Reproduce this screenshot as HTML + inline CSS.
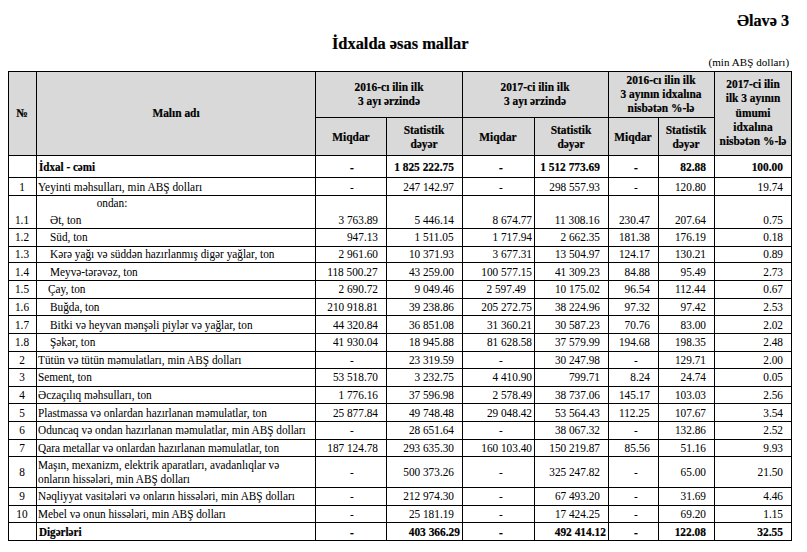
<!DOCTYPE html>
<html><head><meta charset="utf-8"><style>
html,body{margin:0;padding:0;background:#fff;}
body{width:807px;height:552px;position:relative;overflow:hidden;font-family:"Liberation Serif",serif;color:#000;}
.l{position:absolute;}
.t{position:absolute;white-space:nowrap;-webkit-text-stroke:0.04px #000;}
</style></head><body>
<div class="t" style="top:13px;font-size:16.2px;line-height:16.2px;font-weight:bold;-webkit-text-stroke:0.2px #000;right:18px;text-align:right;">Əlavə 3</div>
<div class="t" style="top:36px;font-size:16.4px;line-height:16.4px;font-weight:bold;-webkit-text-stroke:0.2px #000;left:200.3px;width:400px;text-align:center;">İdxalda əsas mallar</div>
<div class="t" style="top:57px;font-size:11px;line-height:11px;right:17.799999999999955px;text-align:right;letter-spacing:0.08px;">(min ABŞ dolları)</div>
<div class="l" style="left:8px;top:71px;width:783px;height:84px;background:#d9d9d9"></div>
<div class="t" style="top:107px;font-size:12px;line-height:12px;font-weight:bold;-webkit-text-stroke:0.2px #000;left:-178px;width:400px;text-align:center;transform:scaleX(0.95);transform-origin:50% 0;">№</div>
<div class="t" style="top:107px;font-size:12px;line-height:12px;font-weight:bold;-webkit-text-stroke:0.2px #000;left:-24.5px;width:400px;text-align:center;transform:scaleX(0.95);transform-origin:50% 0;">Malın adı</div>
<div class="t" style="top:81px;font-size:12px;line-height:12px;font-weight:bold;-webkit-text-stroke:0.2px #000;left:188.5px;width:400px;text-align:center;transform:scaleX(0.95);transform-origin:50% 0;">2016-cı ilin ilk</div>
<div class="t" style="top:95px;font-size:12px;line-height:12px;font-weight:bold;-webkit-text-stroke:0.2px #000;left:188.5px;width:400px;text-align:center;transform:scaleX(0.95);transform-origin:50% 0;">3 ayı ərzində</div>
<div class="t" style="top:81px;font-size:12px;line-height:12px;font-weight:bold;-webkit-text-stroke:0.2px #000;left:335px;width:400px;text-align:center;transform:scaleX(0.95);transform-origin:50% 0;">2017-ci ilin ilk</div>
<div class="t" style="top:95px;font-size:12px;line-height:12px;font-weight:bold;-webkit-text-stroke:0.2px #000;left:335px;width:400px;text-align:center;transform:scaleX(0.95);transform-origin:50% 0;">3 ayı ərzində</div>
<div class="t" style="top:74px;font-size:12px;line-height:12px;font-weight:bold;-webkit-text-stroke:0.2px #000;left:461px;width:400px;text-align:center;transform:scaleX(0.95);transform-origin:50% 0;">2016-cı ilin ilk</div>
<div class="t" style="top:88px;font-size:12px;line-height:12px;font-weight:bold;-webkit-text-stroke:0.2px #000;left:461px;width:400px;text-align:center;transform:scaleX(0.95);transform-origin:50% 0;">3 ayının idxalına</div>
<div class="t" style="top:102px;font-size:12px;line-height:12px;font-weight:bold;-webkit-text-stroke:0.2px #000;left:461px;width:400px;text-align:center;transform:scaleX(0.95);transform-origin:50% 0;">nisbətən %-lə</div>
<div class="t" style="top:78px;font-size:12px;line-height:12px;font-weight:bold;-webkit-text-stroke:0.2px #000;left:552.5px;width:400px;text-align:center;transform:scaleX(0.95);transform-origin:50% 0;">2017-ci ilin</div>
<div class="t" style="top:92px;font-size:12px;line-height:12px;font-weight:bold;-webkit-text-stroke:0.2px #000;left:552.5px;width:400px;text-align:center;transform:scaleX(0.95);transform-origin:50% 0;">ilk 3 ayının</div>
<div class="t" style="top:107px;font-size:12px;line-height:12px;font-weight:bold;-webkit-text-stroke:0.2px #000;left:552.5px;width:400px;text-align:center;transform:scaleX(0.95);transform-origin:50% 0;">ümumi</div>
<div class="t" style="top:121px;font-size:12px;line-height:12px;font-weight:bold;-webkit-text-stroke:0.2px #000;left:552.5px;width:400px;text-align:center;transform:scaleX(0.95);transform-origin:50% 0;">idxalına</div>
<div class="t" style="top:135px;font-size:12px;line-height:12px;font-weight:bold;-webkit-text-stroke:0.2px #000;left:552.5px;width:400px;text-align:center;transform:scaleX(0.95);transform-origin:50% 0;">nisbətən %-lə</div>
<div class="t" style="top:131px;font-size:12px;line-height:12px;font-weight:bold;-webkit-text-stroke:0.2px #000;left:150.5px;width:400px;text-align:center;transform:scaleX(0.95);transform-origin:50% 0;">Miqdar</div>
<div class="t" style="top:131px;font-size:12px;line-height:12px;font-weight:bold;-webkit-text-stroke:0.2px #000;left:298.0px;width:400px;text-align:center;transform:scaleX(0.95);transform-origin:50% 0;">Miqdar</div>
<div class="t" style="top:131px;font-size:12px;line-height:12px;font-weight:bold;-webkit-text-stroke:0.2px #000;left:433.0px;width:400px;text-align:center;transform:scaleX(0.95);transform-origin:50% 0;">Miqdar</div>
<div class="t" style="top:124px;font-size:12px;line-height:12px;font-weight:bold;-webkit-text-stroke:0.2px #000;left:224.0px;width:400px;text-align:center;transform:scaleX(0.95);transform-origin:50% 0;">Statistik</div>
<div class="t" style="top:138px;font-size:12px;line-height:12px;font-weight:bold;-webkit-text-stroke:0.2px #000;left:224.0px;width:400px;text-align:center;transform:scaleX(0.95);transform-origin:50% 0;">dəyər</div>
<div class="t" style="top:124px;font-size:12px;line-height:12px;font-weight:bold;-webkit-text-stroke:0.2px #000;left:371.0px;width:400px;text-align:center;transform:scaleX(0.95);transform-origin:50% 0;">Statistik</div>
<div class="t" style="top:138px;font-size:12px;line-height:12px;font-weight:bold;-webkit-text-stroke:0.2px #000;left:371.0px;width:400px;text-align:center;transform:scaleX(0.95);transform-origin:50% 0;">dəyər</div>
<div class="t" style="top:124px;font-size:12px;line-height:12px;font-weight:bold;-webkit-text-stroke:0.2px #000;left:486.0px;width:400px;text-align:center;transform:scaleX(0.95);transform-origin:50% 0;">Statistik</div>
<div class="t" style="top:138px;font-size:12px;line-height:12px;font-weight:bold;-webkit-text-stroke:0.2px #000;left:486.0px;width:400px;text-align:center;transform:scaleX(0.95);transform-origin:50% 0;">dəyər</div>
<div class="t" style="top:161px;font-size:12px;line-height:12px;font-weight:bold;-webkit-text-stroke:0.2px #000;left:38.5px;transform:scaleX(0.925);transform-origin:0 0;">İdxal - cəmi</div>
<div class="t" style="top:162px;font-size:12px;line-height:12px;font-weight:bold;-webkit-text-stroke:0.2px #000;left:151.8px;width:400px;text-align:center;transform:scaleX(0.95);transform-origin:50% 0;">-</div>
<div class="t" style="top:161px;font-size:12px;line-height:12px;font-weight:bold;-webkit-text-stroke:0.2px #000;right:353px;text-align:right;transform:scaleX(0.95);transform-origin:100% 0;">1 825 222.75</div>
<div class="t" style="top:162px;font-size:12px;line-height:12px;font-weight:bold;-webkit-text-stroke:0.2px #000;left:300.55px;width:400px;text-align:center;transform:scaleX(0.95);transform-origin:50% 0;">-</div>
<div class="t" style="top:161px;font-size:12px;line-height:12px;font-weight:bold;-webkit-text-stroke:0.2px #000;right:207px;text-align:right;transform:scaleX(0.95);transform-origin:100% 0;">1 512 773.69</div>
<div class="t" style="top:162px;font-size:12px;line-height:12px;font-weight:bold;-webkit-text-stroke:0.2px #000;left:435.54999999999995px;width:400px;text-align:center;transform:scaleX(0.95);transform-origin:50% 0;">-</div>
<div class="t" style="top:161px;font-size:12px;line-height:12px;font-weight:bold;-webkit-text-stroke:0.2px #000;right:101px;text-align:right;transform:scaleX(0.95);transform-origin:100% 0;">82.88</div>
<div class="t" style="top:161px;font-size:12px;line-height:12px;font-weight:bold;-webkit-text-stroke:0.2px #000;right:24px;text-align:right;transform:scaleX(0.95);transform-origin:100% 0;">100.00</div>
<div class="t" style="top:181px;font-size:12px;line-height:12px;left:-178px;width:400px;text-align:center;transform:scaleX(0.94);transform-origin:50% 0;">1</div>
<div class="t" style="top:181px;font-size:12px;line-height:12px;left:38px;transform:scaleX(0.948);transform-origin:0 0;">Yeyinti məhsulları, min ABŞ dolları</div>
<div class="t" style="top:182px;font-size:12px;line-height:12px;left:151.8px;width:400px;text-align:center;transform:scaleX(0.94);transform-origin:50% 0;">-</div>
<div class="t" style="top:181px;font-size:12px;line-height:12px;right:353px;text-align:right;transform:scaleX(0.94);transform-origin:100% 0;">247 142.97</div>
<div class="t" style="top:182px;font-size:12px;line-height:12px;left:300.55px;width:400px;text-align:center;transform:scaleX(0.94);transform-origin:50% 0;">-</div>
<div class="t" style="top:181px;font-size:12px;line-height:12px;right:207px;text-align:right;transform:scaleX(0.94);transform-origin:100% 0;">298 557.93</div>
<div class="t" style="top:182px;font-size:12px;line-height:12px;left:435.54999999999995px;width:400px;text-align:center;transform:scaleX(0.94);transform-origin:50% 0;">-</div>
<div class="t" style="top:181px;font-size:12px;line-height:12px;right:101px;text-align:right;transform:scaleX(0.94);transform-origin:100% 0;">120.80</div>
<div class="t" style="top:181px;font-size:12px;line-height:12px;right:24px;text-align:right;transform:scaleX(0.94);transform-origin:100% 0;">19.74</div>
<div class="t" style="top:214px;font-size:12px;line-height:12px;left:-178px;width:400px;text-align:center;transform:scaleX(0.94);transform-origin:50% 0;">1.1</div>
<div class="t" style="top:214px;font-size:12px;line-height:12px;left:49.8px;transform:scaleX(0.94);transform-origin:0 0;">Ət, ton</div>
<div class="t" style="top:214px;font-size:12px;line-height:12px;right:429px;text-align:right;transform:scaleX(0.94);transform-origin:100% 0;">3 763.89</div>
<div class="t" style="top:214px;font-size:12px;line-height:12px;right:353px;text-align:right;transform:scaleX(0.94);transform-origin:100% 0;">5 446.14</div>
<div class="t" style="top:214px;font-size:12px;line-height:12px;right:275px;text-align:right;transform:scaleX(0.94);transform-origin:100% 0;">8 674.77</div>
<div class="t" style="top:214px;font-size:12px;line-height:12px;right:207px;text-align:right;transform:scaleX(0.94);transform-origin:100% 0;">11 308.16</div>
<div class="t" style="top:214px;font-size:12px;line-height:12px;right:157px;text-align:right;transform:scaleX(0.94);transform-origin:100% 0;">230.47</div>
<div class="t" style="top:214px;font-size:12px;line-height:12px;right:101px;text-align:right;transform:scaleX(0.94);transform-origin:100% 0;">207.64</div>
<div class="t" style="top:214px;font-size:12px;line-height:12px;right:24px;text-align:right;transform:scaleX(0.94);transform-origin:100% 0;">0.75</div>
<div class="t" style="top:231px;font-size:12px;line-height:12px;left:-178px;width:400px;text-align:center;transform:scaleX(0.94);transform-origin:50% 0;">1.2</div>
<div class="t" style="top:231px;font-size:12px;line-height:12px;left:49.8px;transform:scaleX(0.94);transform-origin:0 0;">Süd, ton</div>
<div class="t" style="top:231px;font-size:12px;line-height:12px;right:429px;text-align:right;transform:scaleX(0.94);transform-origin:100% 0;">947.13</div>
<div class="t" style="top:231px;font-size:12px;line-height:12px;right:353px;text-align:right;transform:scaleX(0.94);transform-origin:100% 0;">1 511.05</div>
<div class="t" style="top:231px;font-size:12px;line-height:12px;right:275px;text-align:right;transform:scaleX(0.94);transform-origin:100% 0;">1 717.94</div>
<div class="t" style="top:231px;font-size:12px;line-height:12px;right:207px;text-align:right;transform:scaleX(0.94);transform-origin:100% 0;">2 662.35</div>
<div class="t" style="top:231px;font-size:12px;line-height:12px;right:157px;text-align:right;transform:scaleX(0.94);transform-origin:100% 0;">181.38</div>
<div class="t" style="top:231px;font-size:12px;line-height:12px;right:101px;text-align:right;transform:scaleX(0.94);transform-origin:100% 0;">176.19</div>
<div class="t" style="top:231px;font-size:12px;line-height:12px;right:24px;text-align:right;transform:scaleX(0.94);transform-origin:100% 0;">0.18</div>
<div class="t" style="top:248px;font-size:12px;line-height:12px;left:-178px;width:400px;text-align:center;transform:scaleX(0.94);transform-origin:50% 0;">1.3</div>
<div class="t" style="top:248px;font-size:12px;line-height:12px;left:49.8px;transform:scaleX(0.94);transform-origin:0 0;">Kərə yağı və süddən hazırlanmış digər yağlar, ton</div>
<div class="t" style="top:248px;font-size:12px;line-height:12px;right:429px;text-align:right;transform:scaleX(0.94);transform-origin:100% 0;">2 961.60</div>
<div class="t" style="top:248px;font-size:12px;line-height:12px;right:353px;text-align:right;transform:scaleX(0.94);transform-origin:100% 0;">10 371.93</div>
<div class="t" style="top:248px;font-size:12px;line-height:12px;right:275px;text-align:right;transform:scaleX(0.94);transform-origin:100% 0;">3 677.31</div>
<div class="t" style="top:248px;font-size:12px;line-height:12px;right:207px;text-align:right;transform:scaleX(0.94);transform-origin:100% 0;">13 504.97</div>
<div class="t" style="top:248px;font-size:12px;line-height:12px;right:157px;text-align:right;transform:scaleX(0.94);transform-origin:100% 0;">124.17</div>
<div class="t" style="top:248px;font-size:12px;line-height:12px;right:101px;text-align:right;transform:scaleX(0.94);transform-origin:100% 0;">130.21</div>
<div class="t" style="top:248px;font-size:12px;line-height:12px;right:24px;text-align:right;transform:scaleX(0.94);transform-origin:100% 0;">0.89</div>
<div class="t" style="top:266px;font-size:12px;line-height:12px;left:-178px;width:400px;text-align:center;transform:scaleX(0.94);transform-origin:50% 0;">1.4</div>
<div class="t" style="top:266px;font-size:12px;line-height:12px;left:49.8px;transform:scaleX(0.94);transform-origin:0 0;">Meyvə-tərəvəz, ton</div>
<div class="t" style="top:266px;font-size:12px;line-height:12px;right:429px;text-align:right;transform:scaleX(0.94);transform-origin:100% 0;">118 500.27</div>
<div class="t" style="top:266px;font-size:12px;line-height:12px;right:353px;text-align:right;transform:scaleX(0.94);transform-origin:100% 0;">43 259.00</div>
<div class="t" style="top:266px;font-size:12px;line-height:12px;right:275px;text-align:right;transform:scaleX(0.94);transform-origin:100% 0;">100 577.15</div>
<div class="t" style="top:266px;font-size:12px;line-height:12px;right:207px;text-align:right;transform:scaleX(0.94);transform-origin:100% 0;">41 309.23</div>
<div class="t" style="top:266px;font-size:12px;line-height:12px;right:157px;text-align:right;transform:scaleX(0.94);transform-origin:100% 0;">84.88</div>
<div class="t" style="top:266px;font-size:12px;line-height:12px;right:101px;text-align:right;transform:scaleX(0.94);transform-origin:100% 0;">95.49</div>
<div class="t" style="top:266px;font-size:12px;line-height:12px;right:24px;text-align:right;transform:scaleX(0.94);transform-origin:100% 0;">2.73</div>
<div class="t" style="top:283px;font-size:12px;line-height:12px;left:-178px;width:400px;text-align:center;transform:scaleX(0.94);transform-origin:50% 0;">1.5</div>
<div class="t" style="top:283px;font-size:12px;line-height:12px;left:48.3px;transform:scaleX(0.94);transform-origin:0 0;">Çay, ton</div>
<div class="t" style="top:283px;font-size:12px;line-height:12px;right:429px;text-align:right;transform:scaleX(0.94);transform-origin:100% 0;">2 690.72</div>
<div class="t" style="top:283px;font-size:12px;line-height:12px;right:353px;text-align:right;transform:scaleX(0.94);transform-origin:100% 0;">9 049.46</div>
<div class="t" style="top:283px;font-size:12px;line-height:12px;right:281px;text-align:right;transform:scaleX(0.94);transform-origin:100% 0;">2 597.49</div>
<div class="t" style="top:283px;font-size:12px;line-height:12px;right:207px;text-align:right;transform:scaleX(0.94);transform-origin:100% 0;">10 175.02</div>
<div class="t" style="top:283px;font-size:12px;line-height:12px;right:157px;text-align:right;transform:scaleX(0.94);transform-origin:100% 0;">96.54</div>
<div class="t" style="top:283px;font-size:12px;line-height:12px;right:101px;text-align:right;transform:scaleX(0.94);transform-origin:100% 0;">112.44</div>
<div class="t" style="top:283px;font-size:12px;line-height:12px;right:24px;text-align:right;transform:scaleX(0.94);transform-origin:100% 0;">0.67</div>
<div class="t" style="top:301px;font-size:12px;line-height:12px;left:-178px;width:400px;text-align:center;transform:scaleX(0.94);transform-origin:50% 0;">1.6</div>
<div class="t" style="top:301px;font-size:12px;line-height:12px;left:49.8px;transform:scaleX(0.94);transform-origin:0 0;">Buğda, ton</div>
<div class="t" style="top:301px;font-size:12px;line-height:12px;right:429px;text-align:right;transform:scaleX(0.94);transform-origin:100% 0;">210 918.81</div>
<div class="t" style="top:301px;font-size:12px;line-height:12px;right:353px;text-align:right;transform:scaleX(0.94);transform-origin:100% 0;">39 238.86</div>
<div class="t" style="top:301px;font-size:12px;line-height:12px;right:275px;text-align:right;transform:scaleX(0.94);transform-origin:100% 0;">205 272.75</div>
<div class="t" style="top:301px;font-size:12px;line-height:12px;right:207px;text-align:right;transform:scaleX(0.94);transform-origin:100% 0;">38 224.96</div>
<div class="t" style="top:301px;font-size:12px;line-height:12px;right:157px;text-align:right;transform:scaleX(0.94);transform-origin:100% 0;">97.32</div>
<div class="t" style="top:301px;font-size:12px;line-height:12px;right:101px;text-align:right;transform:scaleX(0.94);transform-origin:100% 0;">97.42</div>
<div class="t" style="top:301px;font-size:12px;line-height:12px;right:24px;text-align:right;transform:scaleX(0.94);transform-origin:100% 0;">2.53</div>
<div class="t" style="top:319px;font-size:12px;line-height:12px;left:-178px;width:400px;text-align:center;transform:scaleX(0.94);transform-origin:50% 0;">1.7</div>
<div class="t" style="top:319px;font-size:12px;line-height:12px;left:49.8px;transform:scaleX(0.94);transform-origin:0 0;">Bitki və heyvan mənşəli piylər və yağlar, ton</div>
<div class="t" style="top:319px;font-size:12px;line-height:12px;right:429px;text-align:right;transform:scaleX(0.94);transform-origin:100% 0;">44 320.84</div>
<div class="t" style="top:319px;font-size:12px;line-height:12px;right:353px;text-align:right;transform:scaleX(0.94);transform-origin:100% 0;">36 851.08</div>
<div class="t" style="top:319px;font-size:12px;line-height:12px;right:275px;text-align:right;transform:scaleX(0.94);transform-origin:100% 0;">31 360.21</div>
<div class="t" style="top:319px;font-size:12px;line-height:12px;right:207px;text-align:right;transform:scaleX(0.94);transform-origin:100% 0;">30 587.23</div>
<div class="t" style="top:319px;font-size:12px;line-height:12px;right:157px;text-align:right;transform:scaleX(0.94);transform-origin:100% 0;">70.76</div>
<div class="t" style="top:319px;font-size:12px;line-height:12px;right:101px;text-align:right;transform:scaleX(0.94);transform-origin:100% 0;">83.00</div>
<div class="t" style="top:319px;font-size:12px;line-height:12px;right:24px;text-align:right;transform:scaleX(0.94);transform-origin:100% 0;">2.02</div>
<div class="t" style="top:336px;font-size:12px;line-height:12px;left:-178px;width:400px;text-align:center;transform:scaleX(0.94);transform-origin:50% 0;">1.8</div>
<div class="t" style="top:336px;font-size:12px;line-height:12px;left:49.8px;transform:scaleX(0.94);transform-origin:0 0;">Şəkər, ton</div>
<div class="t" style="top:336px;font-size:12px;line-height:12px;right:429px;text-align:right;transform:scaleX(0.94);transform-origin:100% 0;">41 930.04</div>
<div class="t" style="top:336px;font-size:12px;line-height:12px;right:353px;text-align:right;transform:scaleX(0.94);transform-origin:100% 0;">18 945.88</div>
<div class="t" style="top:336px;font-size:12px;line-height:12px;right:275px;text-align:right;transform:scaleX(0.94);transform-origin:100% 0;">81 628.58</div>
<div class="t" style="top:336px;font-size:12px;line-height:12px;right:207px;text-align:right;transform:scaleX(0.94);transform-origin:100% 0;">37 579.99</div>
<div class="t" style="top:336px;font-size:12px;line-height:12px;right:157px;text-align:right;transform:scaleX(0.94);transform-origin:100% 0;">194.68</div>
<div class="t" style="top:336px;font-size:12px;line-height:12px;right:101px;text-align:right;transform:scaleX(0.94);transform-origin:100% 0;">198.35</div>
<div class="t" style="top:336px;font-size:12px;line-height:12px;right:24px;text-align:right;transform:scaleX(0.94);transform-origin:100% 0;">2.48</div>
<div class="t" style="top:354px;font-size:12px;line-height:12px;left:-178px;width:400px;text-align:center;transform:scaleX(0.94);transform-origin:50% 0;">2</div>
<div class="t" style="top:354px;font-size:12px;line-height:12px;left:38px;transform:scaleX(0.94);transform-origin:0 0;">Tütün və tütün məmulatları, min ABŞ dolları</div>
<div class="t" style="top:355px;font-size:12px;line-height:12px;left:151.8px;width:400px;text-align:center;transform:scaleX(0.94);transform-origin:50% 0;">-</div>
<div class="t" style="top:354px;font-size:12px;line-height:12px;right:353px;text-align:right;transform:scaleX(0.94);transform-origin:100% 0;">23 319.59</div>
<div class="t" style="top:355px;font-size:12px;line-height:12px;left:300.55px;width:400px;text-align:center;transform:scaleX(0.94);transform-origin:50% 0;">-</div>
<div class="t" style="top:354px;font-size:12px;line-height:12px;right:207px;text-align:right;transform:scaleX(0.94);transform-origin:100% 0;">30 247.98</div>
<div class="t" style="top:355px;font-size:12px;line-height:12px;left:435.54999999999995px;width:400px;text-align:center;transform:scaleX(0.94);transform-origin:50% 0;">-</div>
<div class="t" style="top:354px;font-size:12px;line-height:12px;right:101px;text-align:right;transform:scaleX(0.94);transform-origin:100% 0;">129.71</div>
<div class="t" style="top:354px;font-size:12px;line-height:12px;right:24px;text-align:right;transform:scaleX(0.94);transform-origin:100% 0;">2.00</div>
<div class="t" style="top:371px;font-size:12px;line-height:12px;left:-178px;width:400px;text-align:center;transform:scaleX(0.94);transform-origin:50% 0;">3</div>
<div class="t" style="top:371px;font-size:12px;line-height:12px;left:38px;transform:scaleX(0.94);transform-origin:0 0;">Sement, ton</div>
<div class="t" style="top:371px;font-size:12px;line-height:12px;right:429px;text-align:right;transform:scaleX(0.94);transform-origin:100% 0;">53 518.70</div>
<div class="t" style="top:371px;font-size:12px;line-height:12px;right:353px;text-align:right;transform:scaleX(0.94);transform-origin:100% 0;">3 232.75</div>
<div class="t" style="top:371px;font-size:12px;line-height:12px;right:275px;text-align:right;transform:scaleX(0.94);transform-origin:100% 0;">4 410.90</div>
<div class="t" style="top:371px;font-size:12px;line-height:12px;right:207px;text-align:right;transform:scaleX(0.94);transform-origin:100% 0;">799.71</div>
<div class="t" style="top:371px;font-size:12px;line-height:12px;right:157px;text-align:right;transform:scaleX(0.94);transform-origin:100% 0;">8.24</div>
<div class="t" style="top:371px;font-size:12px;line-height:12px;right:101px;text-align:right;transform:scaleX(0.94);transform-origin:100% 0;">24.74</div>
<div class="t" style="top:371px;font-size:12px;line-height:12px;right:24px;text-align:right;transform:scaleX(0.94);transform-origin:100% 0;">0.05</div>
<div class="t" style="top:389px;font-size:12px;line-height:12px;left:-178px;width:400px;text-align:center;transform:scaleX(0.94);transform-origin:50% 0;">4</div>
<div class="t" style="top:389px;font-size:12px;line-height:12px;left:38px;transform:scaleX(0.94);transform-origin:0 0;">Əczaçılıq məhsulları, ton</div>
<div class="t" style="top:389px;font-size:12px;line-height:12px;right:429px;text-align:right;transform:scaleX(0.94);transform-origin:100% 0;">1 776.16</div>
<div class="t" style="top:389px;font-size:12px;line-height:12px;right:353px;text-align:right;transform:scaleX(0.94);transform-origin:100% 0;">37 596.98</div>
<div class="t" style="top:389px;font-size:12px;line-height:12px;right:275px;text-align:right;transform:scaleX(0.94);transform-origin:100% 0;">2 578.49</div>
<div class="t" style="top:389px;font-size:12px;line-height:12px;right:207px;text-align:right;transform:scaleX(0.94);transform-origin:100% 0;">38 737.06</div>
<div class="t" style="top:389px;font-size:12px;line-height:12px;right:157px;text-align:right;transform:scaleX(0.94);transform-origin:100% 0;">145.17</div>
<div class="t" style="top:389px;font-size:12px;line-height:12px;right:101px;text-align:right;transform:scaleX(0.94);transform-origin:100% 0;">103.03</div>
<div class="t" style="top:389px;font-size:12px;line-height:12px;right:24px;text-align:right;transform:scaleX(0.94);transform-origin:100% 0;">2.56</div>
<div class="t" style="top:407px;font-size:12px;line-height:12px;left:-178px;width:400px;text-align:center;transform:scaleX(0.94);transform-origin:50% 0;">5</div>
<div class="t" style="top:407px;font-size:12px;line-height:12px;left:38px;transform:scaleX(0.94);transform-origin:0 0;">Plastmassa və onlardan hazırlanan məmulatlar, ton</div>
<div class="t" style="top:407px;font-size:12px;line-height:12px;right:429px;text-align:right;transform:scaleX(0.94);transform-origin:100% 0;">25 877.84</div>
<div class="t" style="top:407px;font-size:12px;line-height:12px;right:353px;text-align:right;transform:scaleX(0.94);transform-origin:100% 0;">49 748.48</div>
<div class="t" style="top:407px;font-size:12px;line-height:12px;right:275px;text-align:right;transform:scaleX(0.94);transform-origin:100% 0;">29 048.42</div>
<div class="t" style="top:407px;font-size:12px;line-height:12px;right:207px;text-align:right;transform:scaleX(0.94);transform-origin:100% 0;">53 564.43</div>
<div class="t" style="top:407px;font-size:12px;line-height:12px;right:157px;text-align:right;transform:scaleX(0.94);transform-origin:100% 0;">112.25</div>
<div class="t" style="top:407px;font-size:12px;line-height:12px;right:101px;text-align:right;transform:scaleX(0.94);transform-origin:100% 0;">107.67</div>
<div class="t" style="top:407px;font-size:12px;line-height:12px;right:24px;text-align:right;transform:scaleX(0.94);transform-origin:100% 0;">3.54</div>
<div class="t" style="top:424px;font-size:12px;line-height:12px;left:-178px;width:400px;text-align:center;transform:scaleX(0.94);transform-origin:50% 0;">6</div>
<div class="t" style="top:424px;font-size:12px;line-height:12px;left:38px;transform:scaleX(0.94);transform-origin:0 0;">Oduncaq və ondan hazırlanan məmulatlar, min ABŞ dolları</div>
<div class="t" style="top:425px;font-size:12px;line-height:12px;left:151.8px;width:400px;text-align:center;transform:scaleX(0.94);transform-origin:50% 0;">-</div>
<div class="t" style="top:424px;font-size:12px;line-height:12px;right:353px;text-align:right;transform:scaleX(0.94);transform-origin:100% 0;">28 651.64</div>
<div class="t" style="top:425px;font-size:12px;line-height:12px;left:300.55px;width:400px;text-align:center;transform:scaleX(0.94);transform-origin:50% 0;">-</div>
<div class="t" style="top:424px;font-size:12px;line-height:12px;right:207px;text-align:right;transform:scaleX(0.94);transform-origin:100% 0;">38 067.32</div>
<div class="t" style="top:425px;font-size:12px;line-height:12px;left:435.54999999999995px;width:400px;text-align:center;transform:scaleX(0.94);transform-origin:50% 0;">-</div>
<div class="t" style="top:424px;font-size:12px;line-height:12px;right:101px;text-align:right;transform:scaleX(0.94);transform-origin:100% 0;">132.86</div>
<div class="t" style="top:424px;font-size:12px;line-height:12px;right:24px;text-align:right;transform:scaleX(0.94);transform-origin:100% 0;">2.52</div>
<div class="t" style="top:442px;font-size:12px;line-height:12px;left:-178px;width:400px;text-align:center;transform:scaleX(0.94);transform-origin:50% 0;">7</div>
<div class="t" style="top:442px;font-size:12px;line-height:12px;left:38px;transform:scaleX(0.94);transform-origin:0 0;">Qara metallar və onlardan hazırlanan məmulatlar, ton</div>
<div class="t" style="top:442px;font-size:12px;line-height:12px;right:429px;text-align:right;transform:scaleX(0.94);transform-origin:100% 0;">187 124.78</div>
<div class="t" style="top:442px;font-size:12px;line-height:12px;right:353px;text-align:right;transform:scaleX(0.94);transform-origin:100% 0;">293 635.30</div>
<div class="t" style="top:442px;font-size:12px;line-height:12px;right:275px;text-align:right;transform:scaleX(0.94);transform-origin:100% 0;">160 103.40</div>
<div class="t" style="top:442px;font-size:12px;line-height:12px;right:207px;text-align:right;transform:scaleX(0.94);transform-origin:100% 0;">150 219.87</div>
<div class="t" style="top:442px;font-size:12px;line-height:12px;right:157px;text-align:right;transform:scaleX(0.94);transform-origin:100% 0;">85.56</div>
<div class="t" style="top:442px;font-size:12px;line-height:12px;right:101px;text-align:right;transform:scaleX(0.94);transform-origin:100% 0;">51.16</div>
<div class="t" style="top:442px;font-size:12px;line-height:12px;right:24px;text-align:right;transform:scaleX(0.94);transform-origin:100% 0;">9.93</div>
<div class="t" style="top:466px;font-size:12px;line-height:12px;left:-178px;width:400px;text-align:center;transform:scaleX(0.94);transform-origin:50% 0;">8</div>
<div class="t" style="top:459px;font-size:12px;line-height:12px;left:38px;transform:scaleX(0.94);transform-origin:0 0;">Maşın, mexanizm, elektrik aparatları, avadanlıqlar və</div>
<div class="t" style="top:473px;font-size:12px;line-height:12px;left:38px;transform:scaleX(0.94);transform-origin:0 0;">onların hissələri, min ABŞ dolları</div>
<div class="t" style="top:467px;font-size:12px;line-height:12px;left:151.8px;width:400px;text-align:center;transform:scaleX(0.94);transform-origin:50% 0;">-</div>
<div class="t" style="top:466px;font-size:12px;line-height:12px;right:353px;text-align:right;transform:scaleX(0.94);transform-origin:100% 0;">500 373.26</div>
<div class="t" style="top:467px;font-size:12px;line-height:12px;left:300.55px;width:400px;text-align:center;transform:scaleX(0.94);transform-origin:50% 0;">-</div>
<div class="t" style="top:466px;font-size:12px;line-height:12px;right:207px;text-align:right;transform:scaleX(0.94);transform-origin:100% 0;">325 247.82</div>
<div class="t" style="top:467px;font-size:12px;line-height:12px;left:435.54999999999995px;width:400px;text-align:center;transform:scaleX(0.94);transform-origin:50% 0;">-</div>
<div class="t" style="top:466px;font-size:12px;line-height:12px;right:101px;text-align:right;transform:scaleX(0.94);transform-origin:100% 0;">65.00</div>
<div class="t" style="top:466px;font-size:12px;line-height:12px;right:24px;text-align:right;transform:scaleX(0.94);transform-origin:100% 0;">21.50</div>
<div class="t" style="top:490px;font-size:12px;line-height:12px;left:-178px;width:400px;text-align:center;transform:scaleX(0.94);transform-origin:50% 0;">9</div>
<div class="t" style="top:490px;font-size:12px;line-height:12px;left:38px;transform:scaleX(0.94);transform-origin:0 0;">Nəqliyyat vasitələri və onların hissələri, min ABŞ dolları</div>
<div class="t" style="top:491px;font-size:12px;line-height:12px;left:151.8px;width:400px;text-align:center;transform:scaleX(0.94);transform-origin:50% 0;">-</div>
<div class="t" style="top:490px;font-size:12px;line-height:12px;right:353px;text-align:right;transform:scaleX(0.94);transform-origin:100% 0;">212 974.30</div>
<div class="t" style="top:491px;font-size:12px;line-height:12px;left:300.55px;width:400px;text-align:center;transform:scaleX(0.94);transform-origin:50% 0;">-</div>
<div class="t" style="top:490px;font-size:12px;line-height:12px;right:207px;text-align:right;transform:scaleX(0.94);transform-origin:100% 0;">67 493.20</div>
<div class="t" style="top:491px;font-size:12px;line-height:12px;left:435.54999999999995px;width:400px;text-align:center;transform:scaleX(0.94);transform-origin:50% 0;">-</div>
<div class="t" style="top:490px;font-size:12px;line-height:12px;right:101px;text-align:right;transform:scaleX(0.94);transform-origin:100% 0;">31.69</div>
<div class="t" style="top:490px;font-size:12px;line-height:12px;right:24px;text-align:right;transform:scaleX(0.94);transform-origin:100% 0;">4.46</div>
<div class="t" style="top:508px;font-size:12px;line-height:12px;left:-178px;width:400px;text-align:center;transform:scaleX(0.94);transform-origin:50% 0;">10</div>
<div class="t" style="top:508px;font-size:12px;line-height:12px;left:38px;transform:scaleX(0.94);transform-origin:0 0;">Mebel və onun hissələri, min ABŞ dolları</div>
<div class="t" style="top:509px;font-size:12px;line-height:12px;left:151.8px;width:400px;text-align:center;transform:scaleX(0.94);transform-origin:50% 0;">-</div>
<div class="t" style="top:508px;font-size:12px;line-height:12px;right:353px;text-align:right;transform:scaleX(0.94);transform-origin:100% 0;">25 181.19</div>
<div class="t" style="top:509px;font-size:12px;line-height:12px;left:300.55px;width:400px;text-align:center;transform:scaleX(0.94);transform-origin:50% 0;">-</div>
<div class="t" style="top:508px;font-size:12px;line-height:12px;right:207px;text-align:right;transform:scaleX(0.94);transform-origin:100% 0;">17 424.25</div>
<div class="t" style="top:509px;font-size:12px;line-height:12px;left:435.54999999999995px;width:400px;text-align:center;transform:scaleX(0.94);transform-origin:50% 0;">-</div>
<div class="t" style="top:508px;font-size:12px;line-height:12px;right:101px;text-align:right;transform:scaleX(0.94);transform-origin:100% 0;">69.20</div>
<div class="t" style="top:508px;font-size:12px;line-height:12px;right:24px;text-align:right;transform:scaleX(0.94);transform-origin:100% 0;">1.15</div>
<div class="t" style="top:526px;font-size:12px;line-height:12px;font-weight:bold;-webkit-text-stroke:0.2px #000;left:38.5px;transform:scaleX(0.925);transform-origin:0 0;">Digərləri</div>
<div class="t" style="top:527px;font-size:12px;line-height:12px;font-weight:bold;-webkit-text-stroke:0.2px #000;left:151.8px;width:400px;text-align:center;transform:scaleX(0.95);transform-origin:50% 0;">-</div>
<div class="t" style="top:526px;font-size:12px;line-height:12px;font-weight:bold;-webkit-text-stroke:0.2px #000;right:347px;text-align:right;transform:scaleX(0.95);transform-origin:100% 0;">403 366.29</div>
<div class="t" style="top:527px;font-size:12px;line-height:12px;font-weight:bold;-webkit-text-stroke:0.2px #000;left:300.55px;width:400px;text-align:center;transform:scaleX(0.95);transform-origin:50% 0;">-</div>
<div class="t" style="top:526px;font-size:12px;line-height:12px;font-weight:bold;-webkit-text-stroke:0.2px #000;right:201px;text-align:right;transform:scaleX(0.95);transform-origin:100% 0;">492 414.12</div>
<div class="t" style="top:527px;font-size:12px;line-height:12px;font-weight:bold;-webkit-text-stroke:0.2px #000;left:435.54999999999995px;width:400px;text-align:center;transform:scaleX(0.95);transform-origin:50% 0;">-</div>
<div class="t" style="top:526px;font-size:12px;line-height:12px;font-weight:bold;-webkit-text-stroke:0.2px #000;right:101px;text-align:right;transform:scaleX(0.95);transform-origin:100% 0;">122.08</div>
<div class="t" style="top:526px;font-size:12px;line-height:12px;font-weight:bold;-webkit-text-stroke:0.2px #000;right:24px;text-align:right;transform:scaleX(0.95);transform-origin:100% 0;">32.55</div>
<div class="t" style="top:197px;font-size:12px;line-height:12px;left:-88px;width:400px;text-align:center;transform:scaleX(0.94);transform-origin:50% 0;">ondan:</div>
<div class="l" style="left:8px;top:71px;width:784px;height:1px;background:#000"></div>
<div class="l" style="left:8px;top:155px;width:784px;height:1px;background:#000"></div>
<div class="l" style="left:8px;top:177px;width:784px;height:1px;background:#000"></div>
<div class="l" style="left:8px;top:195px;width:784px;height:1px;background:#000"></div>
<div class="l" style="left:8px;top:228px;width:784px;height:1px;background:#000"></div>
<div class="l" style="left:8px;top:246px;width:784px;height:1px;background:#000"></div>
<div class="l" style="left:8px;top:262px;width:784px;height:1px;background:#000"></div>
<div class="l" style="left:8px;top:280px;width:784px;height:1px;background:#000"></div>
<div class="l" style="left:8px;top:298px;width:784px;height:1px;background:#000"></div>
<div class="l" style="left:8px;top:315px;width:784px;height:1px;background:#000"></div>
<div class="l" style="left:8px;top:333px;width:784px;height:1px;background:#000"></div>
<div class="l" style="left:8px;top:351px;width:784px;height:1px;background:#000"></div>
<div class="l" style="left:8px;top:368px;width:784px;height:1px;background:#000"></div>
<div class="l" style="left:8px;top:386px;width:784px;height:1px;background:#000"></div>
<div class="l" style="left:8px;top:403px;width:784px;height:1px;background:#000"></div>
<div class="l" style="left:8px;top:421px;width:784px;height:1px;background:#000"></div>
<div class="l" style="left:8px;top:439px;width:784px;height:1px;background:#000"></div>
<div class="l" style="left:8px;top:456px;width:784px;height:1px;background:#000"></div>
<div class="l" style="left:8px;top:487px;width:784px;height:1px;background:#000"></div>
<div class="l" style="left:8px;top:505px;width:784px;height:1px;background:#000"></div>
<div class="l" style="left:8px;top:522px;width:784px;height:1px;background:#000"></div>
<div class="l" style="left:8px;top:540px;width:784px;height:1px;background:#000"></div>
<div class="l" style="left:315px;top:117px;width:399px;height:1px;background:#000"></div>
<div class="l" style="left:8px;top:71px;width:1px;height:470px;background:#000"></div>
<div class="l" style="left:36px;top:71px;width:1px;height:470px;background:#000"></div>
<div class="l" style="left:315px;top:71px;width:1px;height:470px;background:#000"></div>
<div class="l" style="left:462px;top:71px;width:1px;height:470px;background:#000"></div>
<div class="l" style="left:608px;top:71px;width:1px;height:470px;background:#000"></div>
<div class="l" style="left:714px;top:71px;width:1px;height:470px;background:#000"></div>
<div class="l" style="left:791px;top:71px;width:1px;height:470px;background:#000"></div>
<div class="l" style="left:386px;top:117px;width:1px;height:424px;background:#000"></div>
<div class="l" style="left:534px;top:117px;width:1px;height:424px;background:#000"></div>
<div class="l" style="left:658px;top:117px;width:1px;height:424px;background:#000"></div>
</body></html>
